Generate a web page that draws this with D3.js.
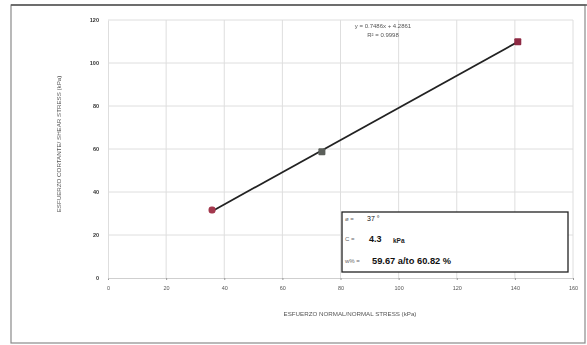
<!DOCTYPE html>
<html>
<head>
<meta charset="utf-8">
<script src="https://cdn.jsdelivr.net/npm/d3@7"></script>
<style>
  html, body { margin: 0; padding: 0; background: #fff; }
  svg { display: block; filter: blur(0.55px); }
  text { font-family: "Liberation Sans", Arial, sans-serif; }
</style>
</head>
<body>
<svg id="chart" width="587" height="345"></svg>
<script>
// Direct shear test: normal stress vs. shear stress (kPa)
const normalStress = [35.8, 73.6, 141.0];
const shearStress  = [31.6, 58.7, 109.9];
const markerColors = ["#a3384d", "#5b5f5a", "#8e2a44"];

const xTicks = [0, 20, 40, 60, 80, 100, 120, 140, 160];
const yTicks = [0, 20, 40, 60, 80, 100, 120];

// Linear trend fitted to the three tests
const slope = 0.7486;
const intercept = 4.2861;

const equationText = "y = 0.7486x + 4.2861";
const rSquaredText = "R² = 0.9998";

const summaryLabels = ["ø =", "C =", "w% ="];
const summaryValues = ["37 °", "4.3", "59.67 a/to 60.82 %"];
const summaryUnits  = ["", "kPa", ""];

const svg = d3.select("#chart");

// outer frame
svg.append("rect")
  .attr("x", 11).attr("y", 5)
  .attr("width", 574).attr("height", 338)
  .attr("fill", "none").attr("stroke", "#8a8a8a").attr("stroke-width", 1.2);
svg.append("line")
  .attr("x1", 11).attr("x2", 587).attr("y1", 5).attr("y2", 5)
  .attr("stroke", "#555").attr("stroke-width", 1.6);

const x = d3.scaleLinear().domain([0, 160]).range([108, 573]);
const y = d3.scaleLinear().domain([0, 120]).range([278, 20]);

// grid
const grid = svg.append("g");
grid.selectAll(".gx").data(xTicks.slice(1)).join("line")
  .attr("x1", d => x(d)).attr("x2", d => x(d))
  .attr("y1", y(120)).attr("y2", y(0))
  .attr("stroke", "#dedede").attr("stroke-width", 1);
grid.selectAll(".gy").data(yTicks.slice(1)).join("line")
  .attr("x1", x(0)).attr("x2", x(160))
  .attr("y1", d => y(d)).attr("y2", d => y(d))
  .attr("stroke", "#dedede").attr("stroke-width", 1);

// axes
const xAxis = svg.append("g")
  .attr("transform", `translate(0,${y(0)})`)
  .call(d3.axisBottom(x).tickValues(xTicks).tickSize(2).tickPadding(6).tickSizeOuter(0));
const yAxis = svg.append("g")
  .attr("transform", `translate(${x(0)},0)`)
  .call(d3.axisLeft(y).tickValues(yTicks).tickSize(0).tickPadding(9));
[xAxis, yAxis].forEach(g => {
  g.select(".domain").attr("stroke", "#cfcfcf");
  g.selectAll(".tick line").attr("stroke", "#999");
  g.selectAll("text").attr("fill", "#555").attr("font-size", 5.5);
});
yAxis.selectAll("text").attr("font-weight", "bold").attr("fill", "#333");
yAxis.select(".domain").attr("stroke", "#dedede");

// trend line between the lowest and highest normal stress
const xMin = d3.min(normalStress), xMax = d3.max(normalStress);
svg.append("line")
  .attr("x1", x(xMin)).attr("y1", y(slope * xMin + intercept))
  .attr("x2", x(xMax)).attr("y2", y(slope * xMax + intercept))
  .attr("stroke", "#222").attr("stroke-width", 1.8);

// test points
svg.selectAll(".pt").data(normalStress).join("rect")
  .attr("x", (d) => x(d) - 3.5)
  .attr("y", (d, i) => y(shearStress[i]) - 3.5)
  .attr("width", 7).attr("height", 7)
  .attr("rx", (d, i) => i === 0 ? 3 : 1)
  .attr("fill", (d, i) => markerColors[i]);

// equation
svg.append("text").attr("x", 383).attr("y", 28)
  .attr("text-anchor", "middle").attr("font-size", 6).attr("fill", "#555")
  .text(equationText);
svg.append("text").attr("x", 383).attr("y", 37)
  .attr("text-anchor", "middle").attr("font-size", 6).attr("fill", "#555")
  .text(rSquaredText);

// axis titles
svg.append("text").attr("x", 350).attr("y", 316)
  .attr("text-anchor", "middle").attr("font-size", 6.2).attr("fill", "#555")
  .text("ESFUERZO NORMAL/NORMAL STRESS  (kPa)");
svg.append("text")
  .attr("transform", "translate(61,144) rotate(-90)")
  .attr("text-anchor", "middle").attr("font-size", 6.2).attr("fill", "#555")
  .text("ESFUERZO CORTANTE/ SHEAR STRESS  (kPa)");

// summary box
const box = svg.append("g");
box.append("rect")
  .attr("x", 342).attr("y", 212).attr("width", 226).attr("height", 60)
  .attr("fill", "#fff").attr("stroke", "#222").attr("stroke-width", 1.3);
const rowsY = [219, 239, 261];
box.selectAll(".lab").data(summaryLabels).join("text")
  .attr("x", 345).attr("y", (d, i) => rowsY[i] + 2)
  .attr("font-size", 6).attr("fill", "#666").text(d => d);
box.selectAll(".val").data(summaryValues).join("text")
  .attr("x", (d, i) => i === 0 ? 367 : (i === 1 ? 369 : 372))
  .attr("y", (d, i) => rowsY[i] + (i === 0 ? 2 : 3))
  .attr("font-size", (d, i) => i === 0 ? 7 : (i === 1 ? 9 : 9.3))
  .attr("font-weight", (d, i) => i === 0 ? "normal" : "bold")
  .attr("fill", "#111").text(d => d);
box.selectAll(".unit").data(summaryUnits).join("text")
  .attr("x", 393).attr("y", (d, i) => rowsY[i] + 4)
  .attr("font-size", 6.5).attr("font-weight", "bold").attr("fill", "#222").text(d => d);
</script>
</body>
</html>
